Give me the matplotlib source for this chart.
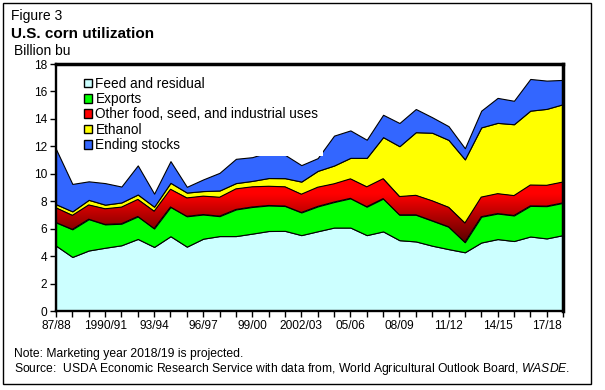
import numpy as np
import matplotlib
matplotlib.use('Agg')
import matplotlib.pyplot as plt
from matplotlib.colors import LinearSegmentedColormap
from matplotlib.patches import Patch, Rectangle

plt.rcParams['font.family'] = 'Liberation Sans'
plt.rcParams['mathtext.fontset'] = 'custom'
plt.rcParams['mathtext.it'] = 'Liberation Sans:italic'
plt.rcParams['mathtext.rm'] = 'Liberation Sans'

# Marketing years 1987/88 .. 2018/19, billion bushels
years = list(range(1987, 2019))
tick_labels = ['87/88', '1990/91', '93/94', '96/97', '99/00', '2002/03',
               '05/06', '08/09', '11/12', '14/15', '17/18']

feed = [4.76, 3.94, 4.41, 4.61, 4.79, 5.25, 4.67, 5.45, 4.69, 5.27, 5.46,
        5.46, 5.64, 5.83, 5.84, 5.53, 5.81, 6.08, 6.08, 5.53, 5.80, 5.16,
        5.07, 4.76, 4.51, 4.28, 4.99, 5.24, 5.10, 5.43, 5.29, 5.53]
exports = [1.69, 2.01, 2.28, 1.70, 1.57, 1.64, 1.34, 2.13, 2.21, 1.76, 1.45,
           1.94, 1.94, 1.86, 1.81, 1.65, 1.81, 1.86, 2.13, 2.07, 2.39, 1.85,
           1.94, 1.82, 1.63, 0.73, 1.88, 1.86, 1.86, 2.23, 2.35, 2.35]
other_fsi = [1.07, 1.02, 1.04, 1.14, 1.21, 1.24, 1.26, 1.29, 1.34, 1.34, 1.38,
             1.50, 1.47, 1.40, 1.40, 1.33, 1.40, 1.33, 1.42, 1.45, 1.45, 1.33,
             1.42, 1.45, 1.42, 1.40, 1.43, 1.45, 1.45, 1.52, 1.52, 1.52]
ethanol = [0.26, 0.29, 0.37, 0.30, 0.34, 0.36, 0.33, 0.47, 0.39, 0.37, 0.49,
           0.42, 0.43, 0.60, 0.63, 0.92, 1.19, 1.33, 1.53, 2.11, 3.03, 3.67,
           4.60, 4.96, 4.91, 4.64, 5.08, 5.16, 5.20, 5.42, 5.57, 5.67]
stocks = [4.02, 2.00, 1.35, 1.57, 1.16, 2.12, 0.95, 1.58, 0.42, 0.85, 1.29,
          1.77, 1.73, 1.89, 1.70, 1.20, 0.93, 2.18, 2.00, 1.32, 1.63, 1.69,
          1.69, 1.13, 1.00, 0.81, 1.22, 1.82, 1.71, 2.31, 2.06, 1.77]

labels = ['Feed and residual', 'Exports', 'Other food, seed, and industrial uses',
          'Ethanol', 'Ending stocks']
colors = ['#CCFFFF', '#00FF00', '#FF0000', '#FFFF00', '#3366FF']

fig = plt.figure(figsize=(6.05, 3.9), dpi=100)
ax = fig.add_axes([56 / 605, 1 - 311 / 390, 507 / 605, 247 / 390])

x = np.arange(len(years))
polys = ax.stackplot(x, feed, exports, other_fsi, ethanol, stocks,
                     colors=colors, edgecolor='black', linewidth=0.8)

# red band: dark at the bottom, bright red at the top (gradient fill)
red = polys[2]
red.set_facecolor('none')
red.set_zorder(3)
cmap = LinearSegmentedColormap.from_list('fsi', ['#5A0000', '#FF0000'])
vals = np.linspace(4, 10, 300)
grad = np.clip((vals - 5) / 3.5, 0, 1).reshape(-1, 1)
img = ax.imshow(grad, cmap=cmap, vmin=0, vmax=1, extent=[0, 31, 4, 10],
                origin='lower', aspect='auto', zorder=2)
img.set_clip_path(red.get_paths()[0], transform=ax.transData)

ax.set_xlim(0, len(years) - 1)
ax.set_ylim(0, 18)
ax.set_yticks(range(0, 19, 2))
ax.set_xticks(x[::3], tick_labels)
ax.set_xticks(x, minor=True)
ax.tick_params(which='both', direction='out', length=4, width=1, labelsize=8.6, pad=2.5)

for side in ['left', 'bottom']:
    ax.spines[side].set_linewidth(1.7)
for side in ['top', 'right']:
    ax.spines[side].set_linewidth(2.5)

handles = [Patch(facecolor=c, edgecolor='black', linewidth=1) for c in colors]
ax.legend(handles, labels, loc='upper left', bbox_to_anchor=(0.047, 0.965),
          fontsize=9.8, frameon=True, fancybox=False, edgecolor='none',
          facecolor='white', framealpha=1, handlelength=0.6, handleheight=0.6,
          handletextpad=0.25, labelspacing=0.1, borderpad=0.3, borderaxespad=0)

fig.text(11 / 605, 1 - 20 / 390, 'Figure 3', fontsize=10, va='baseline')
fig.text(11 / 605, 1 - 37.5 / 390, 'U.S. corn utilization', fontsize=11,
         fontweight='bold', va='baseline')
fig.text(14 / 605, 1 - 55 / 390, 'Billion bu', fontsize=10, va='baseline')
fig.text(14 / 605, 1 - 357 / 390, 'Note: Marketing year 2018/19 is projected.',
         fontsize=8.7, va='baseline')
fig.text(14 / 605, 1 - 372 / 390,
         'Source:  USDA Economic Research Service with data from, World Agricultural '
         'Outlook Board, $\\mathit{WASDE}$.', fontsize=8.7, va='baseline')

fig.add_artist(Rectangle((3 / 605, 1 - 384 / 390), 588 / 605, 381 / 390,
                         transform=fig.transFigure, fill=False,
                         edgecolor='black', linewidth=1))

fig.savefig('out.png', dpi=100)
